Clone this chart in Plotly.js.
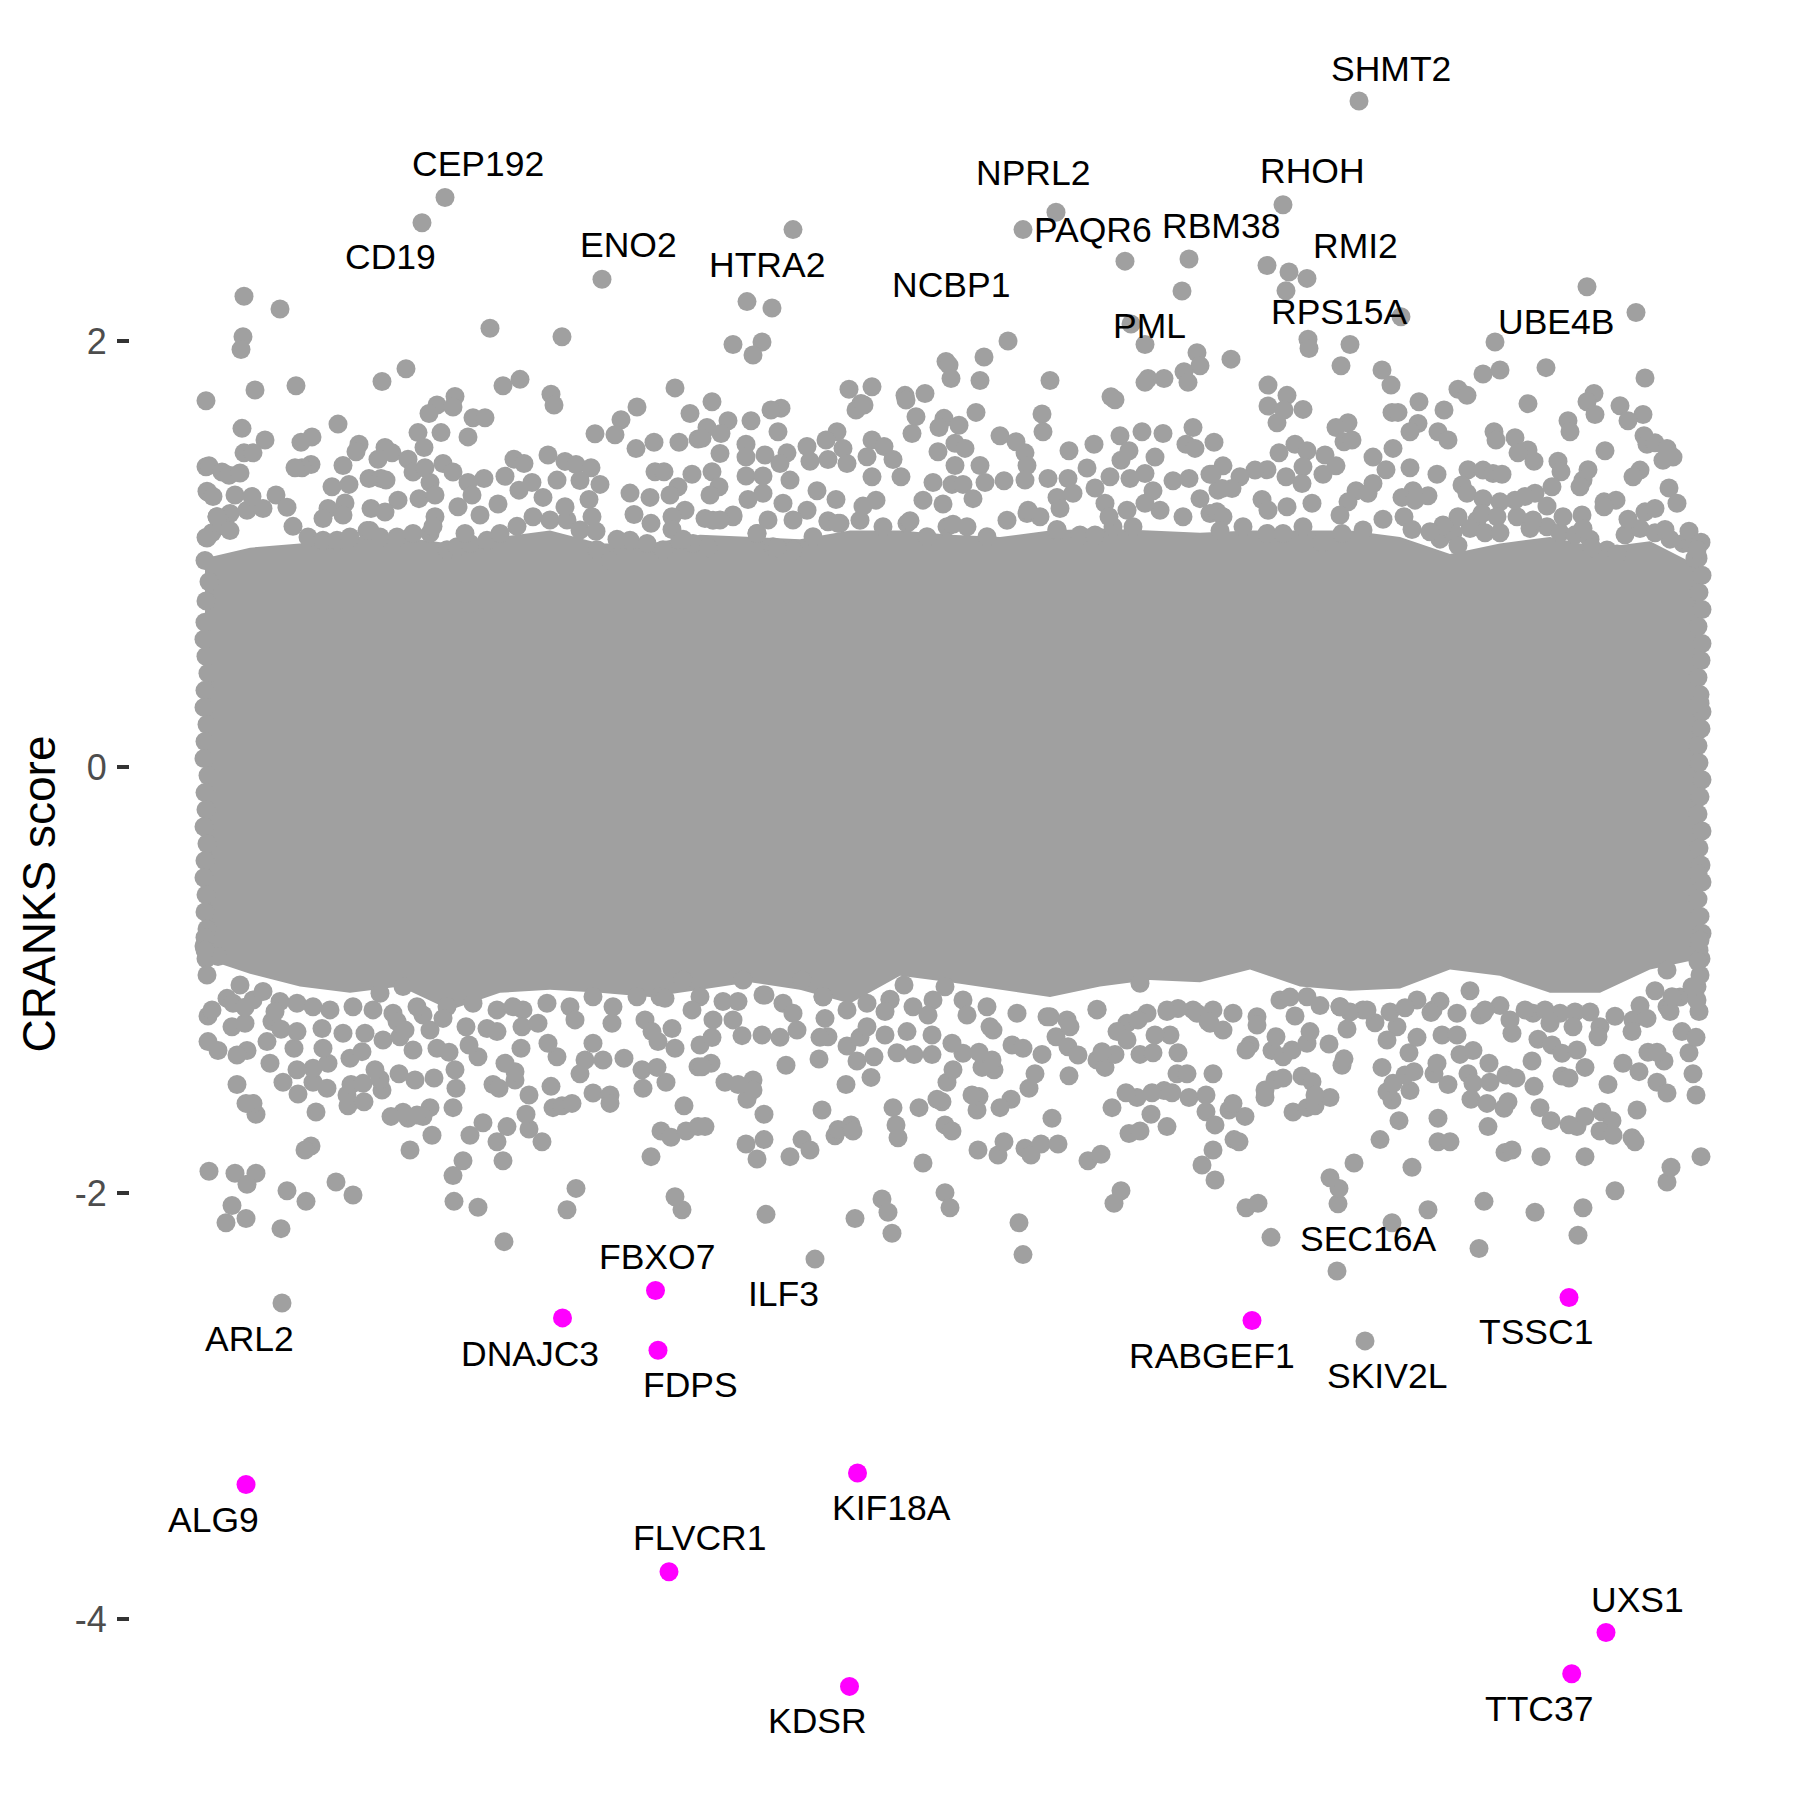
<!DOCTYPE html>
<html><head><meta charset="utf-8">
<script src="https://cdn.plot.ly/plotly-3.0.1.min.js"></script>
<style>html,body{margin:0;padding:0;background:#fff}</style></head>
<body><div id="chart" style="width:1800px;height:1800px"></div>
<script>
// Dense core of the cloud: envelope (gene position, score)
const coreX = [205,250,300,350,400,450,500,550,600,650,700,750,800,850,900,950,1000,1050,1100,1150,1200,1250,1300,1350,1400,1450,1500,1550,1600,1650,1700];
const coreTop = [0.98,1.03,1.05,1.08,1.08,1.05,1.08,1.11,1.05,1.05,1.09,1.08,1.07,1.11,1.11,1.09,1.08,1.11,1.12,1.11,1.10,1.11,1.11,1.11,1.08,1.0,1.05,1.08,1.03,1.06,0.94];
const coreBottom = [-0.9,-0.97,-1.03,-1.06,-1.03,-1.14,-1.06,-1.045,-1.06,-1.08,-1.045,-1.01,-1.045,-1.11,-0.98,-1.01,-1.045,-1.08,-1.03,-1.0,-1.01,-0.95,-1.03,-1.05,-1.04,-0.95,-0.98,-1.06,-1.06,-0.95,-0.9];

// Left and right fringe of the cloud
const edgeX = [206,208,207,205,209,206,205,204,206,208,205,204,207,205,204,208,205,206,204,207,205,204,206,205,207,204,206,205,1698,1702,1699,1702,1698,1702,1701,1698,1700,1702,1701,1698,1699,1702,1700,1698,1702,1699,1701,1702,1698,1700,1702,1699,1701,1698,1700,1697];
const edgeY = [1.41,1.29,1.075,0.97,0.87,0.78,0.68,0.6,0.52,0.44,0.36,0.28,0.2,0.12,0.04,-0.04,-0.12,-0.2,-0.28,-0.36,-0.44,-0.52,-0.6,-0.68,-0.76,-0.84,-0.9,-0.8,0.98,0.9,0.82,0.74,0.66,0.58,0.5,0.42,0.34,0.26,0.18,0.1,0.02,-0.06,-0.14,-0.22,-0.3,-0.38,-0.46,-0.54,-0.62,-0.7,-0.78,-0.86,-0.9,-0.5,0.3,1.0];

// Dots that form the rim of the core
const rimTopX = [217,230,247,263,293,308,323,337,350,367,380,397,413,430,447,457,470,487,500,517,533,550,567,580,597,610,630,647,663,680,693,713,733,757,773,793,813,828,840,860,883,907,927,947,967,987,1007,1027,1040,1057,1080,1095,1113,1133,1160,1183,1210,1243,1267,1283,1303,1477,1517,1547,1607,1683,212,225,1440,1453,1470,1485,1500,1530,1560,1575,1590,1625,1640,1655,1670,1690,1695];
const rimTopY = [1.175,1.19,1.206,1.214,1.13,1.08,1.065,1.065,1.08,1.11,1.08,1.08,1.097,1.097,1.02,1.034,1.05,1.065,1.097,1.13,1.175,1.16,1.16,1.113,1.02,0.97,1.065,1.05,1.02,1.065,1.05,1.159,1.175,1.097,1.034,1.019,1.081,1.152,1.144,1.159,1.128,1.144,1.081,1.128,1.128,1.081,1.159,1.19,1.175,1.112,1.089,1.089,1.128,1.128,1.206,1.175,1.19,1.128,1.097,1.097,1.128,1.159,1.175,1.128,1.019,1.05,1.1,1.13,1.07,1.1,1.12,1.1,1.1,1.12,1.1,1.09,1.07,1.09,1.12,1.1,1.07,1.05,0.98];
const rimBottomX = [227,253,280,297,313,330,353,373,393,423,447,473,497,523,547,570,593,613,637,660,683,700,723,743,763,783,802,823,847,867,890,913,933,963,987,1017,1047,1067,1097,1127,1147,1167,1193,1213,1233,1257,1280,1307,1340,1363,1397,1417,1433,1457,1483,1510,1533,1560,1600,1633,1667,1697,1290,1320,1350,1375,1390,1405,1440,1470,1500,1525,1545,1575,1590,1615,1640,1655,1680];
const rimBottomY = [-1.086,-1.094,-1.101,-1.109,-1.125,-1.14,-1.125,-1.14,-1.156,-1.164,-1.125,-1.109,-1.14,-1.14,-1.109,-1.125,-1.078,-1.125,-1.078,-1.078,-1.0,-1.078,-1.101,-1.0,-1.07,-1.109,-1.0,-1.078,-1.14,-1.109,-1.094,-1.125,-1.094,-1.094,-1.125,-1.156,-1.172,-1.187,-1.14,-1.203,-1.156,-1.14,-1.14,-1.14,-1.156,-1.172,-1.094,-1.078,-1.125,-1.14,-1.219,-1.094,-1.14,-1.156,-1.156,-1.187,-1.156,-1.156,-1.219,-1.187,-1.125,-1.031,-1.08,-1.12,-1.15,-1.2,-1.15,-1.13,-1.1,-1.05,-1.12,-1.14,-1.14,-1.15,-1.15,-1.17,-1.12,-1.05,-1.08];

// Points above the core, left part
const upperLeftX = [244,280,490,602,562,243,241,406,382,520,503,206,255,296,551,554,675,455,437,453,429,473,485,637,690,338,242,621,595,615,441,418,468,265,312,301,654,636,679,698,359,356,385,424,244,253,392,378,408,548,514,524,565,576,591,580,600,443,453,413,425,311,302,295,209,222,229,240,343,332,349,369,381,386,557,532,655,664,692,468,484,505,430,207,213,235,252,276,630,650,678,670,519,543,589,472,345,419,435,398,371,385,328,323,343,458,498,565,592,596,634,685,651,672,672,435,433,480,465,217,287,206,230,617,683,370];
const upperLeftY = [2.21,2.15,2.06,2.29,2.02,2.02,1.96,1.87,1.81,1.82,1.79,1.72,1.77,1.79,1.75,1.70,1.78,1.74,1.70,1.69,1.66,1.64,1.64,1.69,1.66,1.61,1.59,1.63,1.565,1.56,1.57,1.57,1.55,1.535,1.55,1.525,1.525,1.495,1.525,1.54,1.515,1.48,1.50,1.50,1.475,1.475,1.475,1.445,1.445,1.465,1.445,1.425,1.435,1.42,1.405,1.345,1.327,1.425,1.385,1.385,1.405,1.42,1.405,1.405,1.415,1.385,1.37,1.38,1.416,1.316,1.327,1.355,1.355,1.347,1.347,1.336,1.386,1.386,1.375,1.336,1.355,1.365,1.336,1.295,1.27,1.277,1.27,1.277,1.286,1.266,1.316,1.277,1.30,1.266,1.256,1.277,1.24,1.26,1.277,1.253,1.214,1.197,1.214,1.167,1.183,1.222,1.235,1.222,1.175,1.107,1.186,1.206,1.144,1.175,1.115,1.175,1.13,1.183,1.097,1.175,1.22,1.078,1.11,1.07,1.07,1.11];

// Points above the core, middle part
const upperMidX = [1125,1189,1182,747,772,1131,1145,733,762,753,1008,984,946,949,951,980,1197,1200,1184,1188,1164,1148,1145,1050,1111,1115,849,872,905,906,925,861,856,864,712,781,771,976,1042,1043,916,912,944,959,939,728,751,778,721,707,702,1000,1016,1120,1142,1163,1193,1186,1195,1214,1094,1069,837,826,807,872,884,843,1129,1121,1155,746,746,720,765,787,780,955,965,938,1025,810,828,847,867,893,872,901,955,980,1027,1087,712,746,763,790,933,952,963,985,1004,1025,1048,1068,1110,1145,1130,1173,1189,1210,719,763,817,836,748,1095,1153,1057,1073,1200,1218,876,923,943,1060,1105,1127,1145,973,863,710,783,807,733,828,838,910,953,1028,1109,1217,1057,720,768,705,793,757,708,777];
const upperMidY = [2.375,2.385,2.235,2.185,2.155,2.08,1.984,1.984,1.995,1.934,2.0,1.925,1.904,1.887,1.824,1.815,1.945,1.884,1.856,1.806,1.824,1.824,1.806,1.815,1.738,1.724,1.774,1.785,1.745,1.723,1.754,1.707,1.676,1.70,1.715,1.685,1.676,1.665,1.657,1.574,1.645,1.566,1.637,1.605,1.594,1.626,1.626,1.574,1.566,1.594,1.543,1.555,1.527,1.555,1.574,1.566,1.594,1.515,1.496,1.525,1.515,1.485,1.574,1.535,1.505,1.535,1.505,1.496,1.485,1.44,1.455,1.515,1.455,1.472,1.465,1.475,1.425,1.52,1.496,1.48,1.475,1.436,1.444,1.425,1.457,1.444,1.363,1.363,1.416,1.416,1.416,1.404,1.386,1.366,1.366,1.347,1.336,1.327,1.327,1.336,1.344,1.347,1.355,1.355,1.363,1.378,1.355,1.344,1.355,1.375,1.316,1.285,1.297,1.256,1.256,1.31,1.297,1.266,1.285,1.26,1.30,1.253,1.253,1.235,1.214,1.238,1.206,1.238,1.26,1.225,1.277,1.238,1.206,1.183,1.156,1.144,1.156,1.14,1.206,1.175,1.198,1.115,1.16,1.16,1.167,1.16,1.097,1.03,1.03];

// Points above the core, right part
const upperRightX = [1267,1289,1307,1286,1587,1636,1401,1495,1546,1645,1308,1309,1350,1341,1231,1382,1391,1483,1500,1458,1467,1268,1287,1268,1303,1277,1284,1419,1444,1392,1398,1528,1594,1587,1595,1620,1643,1628,1568,1570,1494,1496,1418,1410,1438,1448,1348,1336,1344,1352,1515,1644,1647,1655,1667,1673,1663,1605,1393,1295,1279,1307,1325,1373,1528,1518,1534,1558,1588,1640,1633,1583,1580,1410,1437,1386,1336,1323,1303,1286,1267,1255,1240,1223,1212,1468,1483,1493,1502,1561,1462,1373,1552,1669,1677,1604,1616,1604,1467,1428,1413,1402,1415,1356,1368,1348,1340,1262,1232,1222,1302,1312,1287,1268,1483,1500,1535,1525,1515,1547,1563,1582,1583,1628,1645,1655,1665,1689,1701,1458,1482,1404,1383,1443,1430,1412,1363,1342,1322,1223,1220,1458,1497,1533,1617,1697,1592];
const upperRightY = [2.355,2.324,2.294,2.236,2.255,2.134,2.114,1.995,1.875,1.826,2.008,1.965,1.984,1.884,1.915,1.864,1.793,1.845,1.864,1.774,1.745,1.793,1.745,1.695,1.679,1.616,1.676,1.715,1.676,1.665,1.665,1.706,1.754,1.715,1.655,1.696,1.655,1.626,1.626,1.574,1.574,1.535,1.613,1.574,1.574,1.535,1.616,1.594,1.527,1.535,1.546,1.555,1.515,1.522,1.496,1.455,1.44,1.485,1.496,1.515,1.475,1.485,1.465,1.455,1.488,1.475,1.436,1.436,1.396,1.394,1.363,1.347,1.316,1.405,1.375,1.396,1.414,1.375,1.41,1.363,1.396,1.394,1.363,1.414,1.375,1.396,1.394,1.378,1.375,1.386,1.324,1.331,1.316,1.31,1.238,1.245,1.253,1.222,1.285,1.274,1.297,1.266,1.253,1.297,1.285,1.245,1.183,1.256,1.308,1.308,1.331,1.238,1.222,1.206,1.26,1.245,1.285,1.27,1.253,1.225,1.175,1.183,1.12,1.163,1.198,1.214,1.115,1.107,1.055,1.175,1.19,1.175,1.163,1.136,1.105,1.115,1.113,1.097,1.055,1.175,1.11,1.04,1.175,1.16,1.0,1.02,1.03];

// Topmost grey outliers
const topX = [1359,445,422,793,1056,1023,1283];
const topY = [3.127,2.674,2.555,2.523,2.605,2.523,2.64];

// Points below the core, left part
const lowerLeftX = [504,281,226,246,232,478,454,567,576,682,675,651,287,306,353,336,209,235,256,247,453,463,503,410,311,305,432,470,483,497,507,529,542,526,529,551,553,562,572,593,610,610,643,666,684,661,671,686,698,453,456,455,430,423,417,408,403,391,316,256,253,246,237,283,298,327,348,364,347,351,363,382,380,375,399,415,434,493,499,515,515,505,521,478,469,449,437,580,585,603,624,642,657,675,658,557,548,698,700,328,313,313,297,270,267,247,237,218,208,294,350,362,323,413,383,400,207,232,245,208,212,233,245,272,281,275,322,297,343,365,397,405,430,443,417,466,487,497,522,538,575,593,612,645,652,672,665,692,513,380,403,263,240,218,205];
const lowerLeftY = [-2.228,-2.167,-2.139,-2.119,-2.058,-2.067,-2.039,-2.078,-1.978,-2.078,-2.017,-1.829,-1.989,-2.039,-2.009,-1.948,-1.898,-1.907,-1.907,-1.959,-1.918,-1.848,-1.848,-1.798,-1.779,-1.798,-1.729,-1.729,-1.67,-1.759,-1.688,-1.699,-1.759,-1.63,-1.54,-1.499,-1.599,-1.59,-1.579,-1.53,-1.54,-1.579,-1.508,-1.48,-1.59,-1.709,-1.738,-1.709,-1.688,-1.599,-1.508,-1.421,-1.599,-1.641,-1.634,-1.649,-1.621,-1.64,-1.619,-1.63,-1.579,-1.579,-1.49,-1.48,-1.535,-1.508,-1.59,-1.571,-1.54,-1.49,-1.485,-1.516,-1.466,-1.421,-1.44,-1.469,-1.46,-1.49,-1.508,-1.469,-1.43,-1.391,-1.32,-1.36,-1.305,-1.339,-1.32,-1.44,-1.375,-1.375,-1.367,-1.421,-1.41,-1.32,-1.289,-1.36,-1.297,-1.407,-1.305,-1.391,-1.48,-1.414,-1.421,-1.391,-1.289,-1.331,-1.352,-1.331,-1.289,-1.32,-1.367,-1.336,-1.32,-1.328,-1.281,-1.266,-0.976,-1.219,-1.203,-1.169,-1.14,-1.109,-1.128,-1.195,-1.231,-1.148,-1.227,-1.242,-1.25,-1.25,-1.195,-1.235,-1.235,-1.18,-1.125,-1.219,-1.227,-1.242,-1.219,-1.203,-1.187,-1.297,-1.203,-1.187,-1.242,-1.227,-1.086,-1.14,-1.125,-1.062,-1.03,-1.054,-1.023,-0.89,-0.859];

// Points below the core, middle part
const lowerMidX = [766,855,815,882,888,892,945,950,1019,1023,1121,1114,923,757,746,764,790,802,810,835,838,851,853,898,896,893,919,822,764,705,945,952,978,998,1004,1025,1031,1041,1058,1052,1088,1101,1112,1129,1140,1151,1167,1202,1213,1215,1206,1215,1189,1206,1172,1164,1152,1137,1126,1177,1187,1213,1069,1042,1035,1029,1011,1000,977,979,972,942,937,947,953,994,982,992,979,963,952,932,914,897,871,846,819,786,753,747,753,738,725,711,702,712,857,874,847,860,885,907,932,1012,1023,1056,1068,1078,1097,1105,1115,1102,1140,1153,1178,1170,1155,1127,1117,1210,1197,1178,1167,1138,1097,1070,1050,993,990,967,890,885,928,904,945,828,820,825,823,797,780,762,742,733,793,765,738,713,867,1140];
const lowerMidY = [-2.10,-2.119,-2.31,-2.028,-2.09,-2.189,-1.998,-2.069,-2.139,-2.289,-1.989,-2.048,-1.859,-1.84,-1.77,-1.749,-1.829,-1.749,-1.798,-1.731,-1.701,-1.68,-1.709,-1.74,-1.68,-1.599,-1.599,-1.61,-1.63,-1.688,-1.68,-1.709,-1.798,-1.821,-1.759,-1.79,-1.821,-1.77,-1.77,-1.649,-1.848,-1.818,-1.599,-1.72,-1.709,-1.63,-1.688,-1.868,-1.798,-1.939,-1.618,-1.68,-1.551,-1.54,-1.529,-1.519,-1.529,-1.551,-1.529,-1.44,-1.44,-1.44,-1.449,-1.349,-1.44,-1.508,-1.56,-1.599,-1.61,-1.547,-1.54,-1.571,-1.56,-1.48,-1.421,-1.421,-1.41,-1.375,-1.339,-1.344,-1.297,-1.35,-1.35,-1.341,-1.457,-1.49,-1.371,-1.40,-1.469,-1.56,-1.516,-1.49,-1.48,-1.391,-1.407,-1.27,-1.38,-1.36,-1.31,-1.269,-1.258,-1.242,-1.258,-1.305,-1.32,-1.266,-1.313,-1.352,-1.375,-1.41,-1.349,-1.336,-1.349,-1.341,-1.341,-1.258,-1.258,-1.281,-1.242,-1.203,-1.156,-1.133,-1.148,-1.187,-1.137,-1.219,-1.172,-1.235,-1.219,-1.164,-1.09,-1.148,-1.164,-1.023,-1.031,-1.266,-1.269,-1.18,-1.078,-1.235,-1.269,-1.258,-1.261,-1.187,-1.156,-1.07,-1.101,-1.187,-1.219,-1.015];

// Points below the core, right part
const lowerRightX = [1337,1271,1392,1479,1578,1583,1535,1484,1428,1338,1339,1330,1246,1258,1615,1667,1671,1701,1585,1541,1505,1512,1412,1354,1234,1239,1380,1438,1450,1488,1438,1399,1245,1229,1233,1293,1307,1315,1330,1265,1265,1275,1283,1302,1312,1315,1342,1344,1382,1392,1387,1410,1393,1405,1414,1434,1437,1448,1468,1473,1471,1487,1490,1506,1516,1508,1504,1489,1532,1534,1540,1551,1569,1577,1585,1602,1612,1600,1613,1632,1635,1637,1562,1569,1608,1657,1667,1696,1693,1689,1639,1664,1648,1657,1585,1623,1460,1473,1409,1250,1246,1272,1283,1292,1276,1307,1329,1310,1347,1295,1367,1387,1417,1442,1457,1431,1480,1512,1538,1552,1562,1577,1573,1550,1598,1632,1682,1696,1670,1699,1647,1223,1208,1257,1340,1485,1697,1692,1700,1698,1700,1667,1672];
const lowerRightY = [-2.366,-2.208,-2.139,-2.26,-2.198,-2.069,-2.09,-2.039,-2.078,-2.05,-1.978,-1.928,-2.069,-2.048,-1.989,-1.948,-1.879,-1.829,-1.829,-1.829,-1.809,-1.798,-1.879,-1.859,-1.749,-1.759,-1.749,-1.759,-1.759,-1.688,-1.649,-1.66,-1.64,-1.61,-1.579,-1.619,-1.599,-1.59,-1.551,-1.551,-1.516,-1.469,-1.46,-1.45,-1.477,-1.54,-1.40,-1.37,-1.41,-1.563,-1.524,-1.519,-1.485,-1.446,-1.43,-1.44,-1.391,-1.49,-1.44,-1.485,-1.56,-1.579,-1.48,-1.446,-1.46,-1.571,-1.602,-1.391,-1.38,-1.499,-1.599,-1.66,-1.679,-1.688,-1.641,-1.619,-1.66,-1.709,-1.729,-1.74,-1.759,-1.61,-1.45,-1.46,-1.49,-1.48,-1.53,-1.54,-1.44,-1.341,-1.43,-1.38,-1.339,-1.339,-1.41,-1.391,-1.349,-1.331,-1.341,-1.305,-1.328,-1.331,-1.36,-1.328,-1.266,-1.297,-1.30,-1.242,-1.23,-1.169,-1.14,-1.281,-1.269,-1.258,-1.258,-1.152,-1.164,-1.25,-1.278,-1.305,-1.344,-1.328,-1.219,-1.203,-1.266,-1.242,-1.242,-1.269,-1.148,-1.148,-1.18,-1.235,-1.195,-1.211,-1.125,-1.14,-1.094,-1.031,-0.976,-0.914,-0.812,-0.953,-1.078];

// Grey labelled outliers at the bottom
const bottomX = [282,1365];
const bottomY = [-2.516,-2.694];

// Highlighted genes
const hitX = [246,669,857.5,849.5,1571.7,1606,1569,1252,658,562.5,655.5];
const hitY = [-3.368,-3.778,-3.314,-4.316,-4.257,-4.063,-2.49,-2.598,-2.738,-2.586,-2.457];

// Gene labels
const labelText = ["SHMT2","CEP192","NPRL2","RHOH","PAQR6","RBM38","RMI2","CD19","ENO2","HTRA2","NCBP1","RPS15A","PML","UBE4B","FBXO7","ILF3","SEC16A","ARL2","DNAJC3","RABGEF1","TSSC1","SKIV2L","FDPS","ALG9","KIF18A","FLVCR1","UXS1","KDSR","TTC37"];
const labelX = [1391,478,1033,1312,1093,1221,1355,390,628,767,951,1339,1149,1556,657,783,1368,249,530,1212,1536,1387,690,213.5,891,700,1637,817,1539.5];
const labelY = [3.277,2.83,2.79,2.80,2.52,2.54,2.447,2.394,2.453,2.357,2.263,2.136,2.07,2.09,-2.30,-2.474,-2.216,-2.685,-2.755,-2.765,-2.652,-2.86,-2.90,-3.535,-3.48,-3.62,-3.91,-4.48,-4.42];

// Axis
const tickVals = [-4,-2,0,2];
const tickText = ["-4","-2","0","2"];

const grey = "#A0A0A0";
const greyX = [].concat(edgeX,rimTopX,rimBottomX,upperLeftX,upperMidX,upperRightX,topX,lowerLeftX,lowerMidX,lowerRightX,bottomX);
const greyY = [].concat(edgeY,rimTopY,rimBottomY,upperLeftY,upperMidY,upperRightY,topY,lowerLeftY,lowerMidY,lowerRightY,bottomY);

const traces = [
  {type:"scatter",mode:"lines",x:coreX.concat(coreX.slice().reverse()),y:coreTop.concat(coreBottom.slice().reverse()),
   fill:"toself",fillcolor:grey,line:{width:0,color:grey},hoverinfo:"skip"},
  {type:"scatter",mode:"markers",x:greyX,y:greyY,marker:{size:19,color:grey,line:{width:0}}},
  {type:"scatter",mode:"markers",x:hitX,y:hitY,marker:{size:19,color:"#FF00FF",line:{width:0}}}
];
const layout = {
  width:1800,height:1800,showlegend:false,paper_bgcolor:"#fff",plot_bgcolor:"#fff",
  margin:{l:130,r:0,t:0,b:12,pad:0},
  font:{family:"Liberation Sans, Arial, sans-serif"},
  xaxis:{range:[130,1800],showgrid:false,zeroline:false,showline:false,showticklabels:false,ticks:""},
  yaxis:{range:[-4.793,3.601],showgrid:false,zeroline:false,showline:false,tickmode:"array",tickvals:tickVals,ticktext:tickText,automargin:true,
    ticks:"outside",ticklen:12,tickwidth:4,tickcolor:"#333333",tickfont:{size:36,color:"#4D4D4D"},ticklabelstandoff:3,
    title:{text:"CRANKS score",font:{size:46,color:"#000"},standoff:4}},
  annotations:labelText.map((t,i)=>({text:t,x:labelX[i],y:labelY[i],xref:"x",yref:"y",showarrow:false,xanchor:"center",yanchor:"middle",yshift:0,
    font:{size:35.5,color:"#000",family:"Liberation Sans, Arial, sans-serif"}}))
};
Plotly.newPlot("chart",traces,layout,{displayModeBar:false,staticPlot:true});
</script></body></html>
